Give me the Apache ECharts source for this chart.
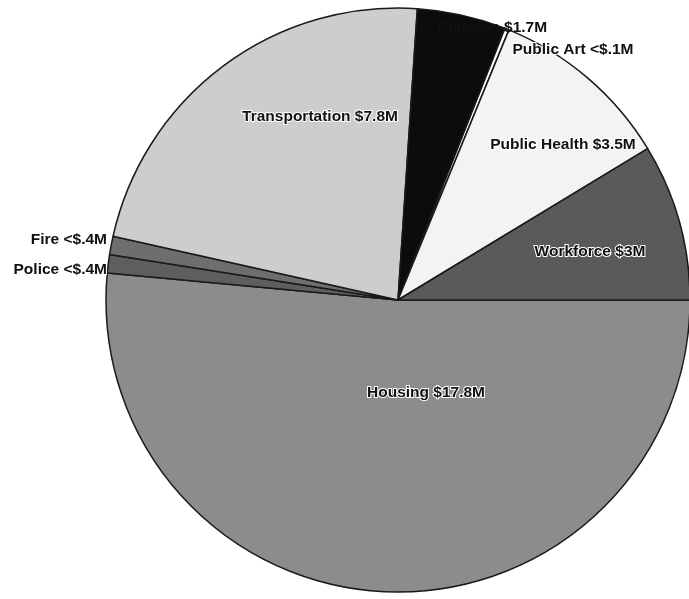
<!DOCTYPE html>
<html>
<head>
<meta charset="utf-8">
<script src="https://cdn.jsdelivr.net/npm/echarts@6/dist/echarts.min.js"></script>
<style>
html,body{margin:0;padding:0;background:#fff;}
#chart{width:689px;height:599px;}
</style>
</head>
<body>
<div id="chart"></div>
<script>
// Data (in $M), clockwise from 3 o'clock
var categories = ['Housing', 'Police', 'Fire', 'Transportation', 'Children', 'Public Art', 'Public Health', 'Workforce'];
var values = [17.8, 0.35, 0.35, 7.8, 1.7, 0.08, 3.5, 3.0];
var valueLabels = ['$17.8M', '<$.4M', '<$.4M', '$7.8M', '$1.7M', '<$.1M', '$3.5M', '$3M'];

var sliceColors = ['#8c8c8c', '#5e5e5e', '#6e6e6e', '#cdcdcd', '#0c0c0c', '#ffffff', '#f3f3f3', '#5a5a5a'];
// label anchor points (pixels) and alignment
var labelPlace = [
  {x: 426, y: 393, align: 'center'},
  {x: 107, y: 270, align: 'right'},
  {x: 107, y: 240, align: 'right'},
  {x: 320, y: 117, align: 'center'},
  {x: 492, y: 28, align: 'center'},
  {x: 573, y: 50, align: 'center'},
  {x: 563, y: 145, align: 'center'},
  {x: 590, y: 252, align: 'center'}
];

var chart = echarts.init(document.getElementById('chart'));
var data = categories.map(function (c, i) {
  var lbl = {};
  if (i === 4) { lbl = {textBorderWidth: 0}; }
  return {
    name: c,
    value: values[i],
    itemStyle: {color: sliceColors[i]},
    label: lbl
  };
});

chart.setOption({
  backgroundColor: '#ffffff',
  animation: false,
  series: [{
    type: 'pie',
    center: [398, 300],
    radius: [0, 292],
    startAngle: 0,
    clockwise: true,
    avoidLabelOverlap: false,
    data: data,
    itemStyle: {borderColor: '#1a1a1a', borderWidth: 1.5},
    label: {
      show: true,
      position: 'inside',
      formatter: function (p) { return p.name + ' ' + valueLabels[p.dataIndex]; },
      fontFamily: 'Liberation Sans, Arial, sans-serif',
      fontWeight: 'bold',
      fontSize: 15.5,
      color: '#111111',
      textBorderColor: '#ffffff',
      textBorderWidth: 2
    },
    labelLine: {show: false},
    labelLayout: function (params) {
      var p = labelPlace[params.dataIndex];
      return {x: p.x, y: p.y, align: p.align, verticalAlign: 'middle'};
    }
  }]
});
</script>
</body>
</html>
